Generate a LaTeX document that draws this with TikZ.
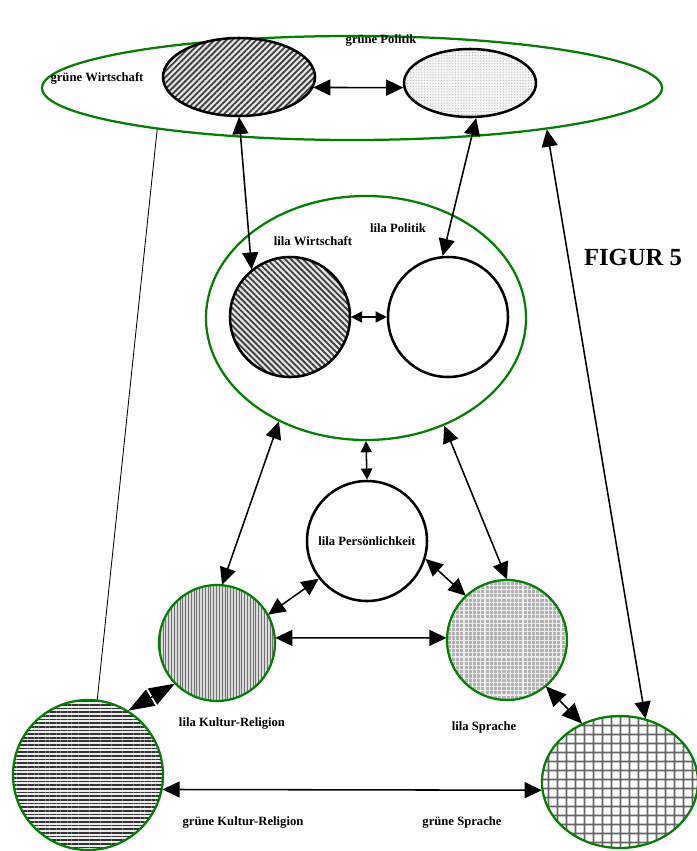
\documentclass[tikz,border=0pt]{standalone}
\usepackage{fontspec}
\setmainfont{Liberation Serif}
\usetikzlibrary{shapes.geometric,arrows.meta,patterns.meta}

\definecolor{ggreen}{HTML}{008000}

\tikzset{
    blob/.style={ellipse, draw=black, line width=1.8pt, inner sep=0pt},
    greenblob/.style={blob, draw=ggreen, line width=1.6pt},
    dbl/.style={{Triangle[length=4.3mm,width=4mm]}-{Triangle[length=4.3mm,width=4mm]}, line width=1.1pt},
    smalldbl/.style={{Triangle[length=2.8mm,width=2.8mm]}-{Triangle[length=2.8mm,width=2.8mm]}, line width=1.1pt},
    middbl/.style={{Triangle[length=5mm,width=4.4mm]}-{Triangle[length=5mm,width=4.4mm]}, line width=1.1pt},
    bigdbl/.style={{Triangle[length=6.5mm,width=4.6mm]}-{Triangle[length=6.5mm,width=4.6mm]}, line width=1.1pt},
    lbl/.style={font=\fontsize{9}{10}\selectfont\bfseries},
}

\begin{document}
\begin{tikzpicture}[x=0.25mm,y=-0.25mm]
    \useasboundingbox (0,0) rectangle (696,851);

    % Draw the two frames
    \node[greenblob, minimum width=155mm, minimum height=26mm] (gruen) at (352,88) {};
    \node[greenblob, minimum width=80mm, minimum height=61mm] (lila) at (366,318) {};

    % Draw the blobs inside the frames
    \node[blob, minimum width=38mm, minimum height=19.5mm, preaction={fill=gray!20},
          pattern={Lines[angle=45,distance=3pt,line width=1.3pt]}, pattern color=black!75] (gW) at (239,77) {};
    \node[blob, minimum width=33mm, minimum height=17mm, preaction={fill=gray!8},
          pattern={Dots[radius=0.45pt,distance=2pt]}, pattern color=gray!55] (gP) at (470,83) {};
    \node[blob, minimum width=30mm, minimum height=30mm, preaction={fill=gray!20},
          pattern={Lines[angle=-45,distance=3pt,line width=1.3pt]}, pattern color=black!75] (lW) at (290,317) {};
    \node[blob, minimum width=30mm, minimum height=30mm] (lP) at (448,317) {};

    % Draw the lower circles
    \node[blob, minimum width=30mm, minimum height=30mm] (lPers) at (367,541) {};
    \node[greenblob, minimum width=29mm, minimum height=29mm, preaction={fill=gray!30},
          pattern={Lines[angle=90,distance=2pt,line width=0.6pt]}, pattern color=black!55] (lKR) at (217,643) {};
    \node[greenblob, minimum width=30mm, minimum height=30mm, preaction={fill=gray!60},
          pattern={Hatch[angle=0,distance=3pt,line width=0.8pt]}, pattern color=gray!15] (lS) at (507,640) {};
    \node[greenblob, minimum width=37.5mm, minimum height=37.5mm, preaction={fill=gray!15},
          pattern={Lines[angle=0,distance=2.6pt,line width=1.2pt]}, pattern color=black!80] (gKR) at (88,775) {};
    \node[greenblob, minimum width=39mm, minimum height=33mm,
          pattern={Hatch[angle=0,distance=6.4pt,line width=1.1pt]}, pattern color=black!60] (gS) at (620,782) {};

    % Label the blobs
    \node[lbl] (tgP) at (381,41) {grüne Politik};
    \node[lbl] (tgW) at (97,78) {grüne Wirtschaft};
    \node[lbl] (tlW) at (313,241) {lila Wirtschaft};
    \node[lbl] (tlP) at (398,228) {lila Politik};
    \node[lbl] (tlPers) at (367,541) {lila Persönlichkeit};
    \node[lbl] (tlKR) at (232,723) {lila Kultur-Religion};
    \node[lbl] (tlS) at (484,727) {lila Sprache};
    \node[lbl] (tgKR) at (243,822) {grüne Kultur-Religion};
    \node[lbl] (tgS) at (462,822) {grüne Sprache};
    \node[font=\fontsize{17.5}{20}\selectfont\bfseries] (fig) at (633,257) {FIGUR 5};

    % Draw the connectors
    \foreach \a/\b in {gW.-8/gP.184, gW.south/lW.129, gP.-80/lP.95,
                       lila.230/lKR.85, lila.306/lS.north,
                       lPers.218/lKR.29, lPers.-17/lS.133, lKR.5/lS.178,
                       gS.68/gruen.-12, gKR.-11/gS.186}
        \draw[dbl] (\a) -- (\b);
    \draw[smalldbl] (lW.east) -- (lP.west);
    \draw[smalldbl] (lila.south) -- (lPers.north);
    \draw[bigdbl] (lKR.224) -- (gKR.58);
    \draw[middbl] (lS.-50) -- (gS.123);
    \draw[line width=0.6pt] (gruen.192) -- (gKR.83);

\end{tikzpicture}
\end{document}
